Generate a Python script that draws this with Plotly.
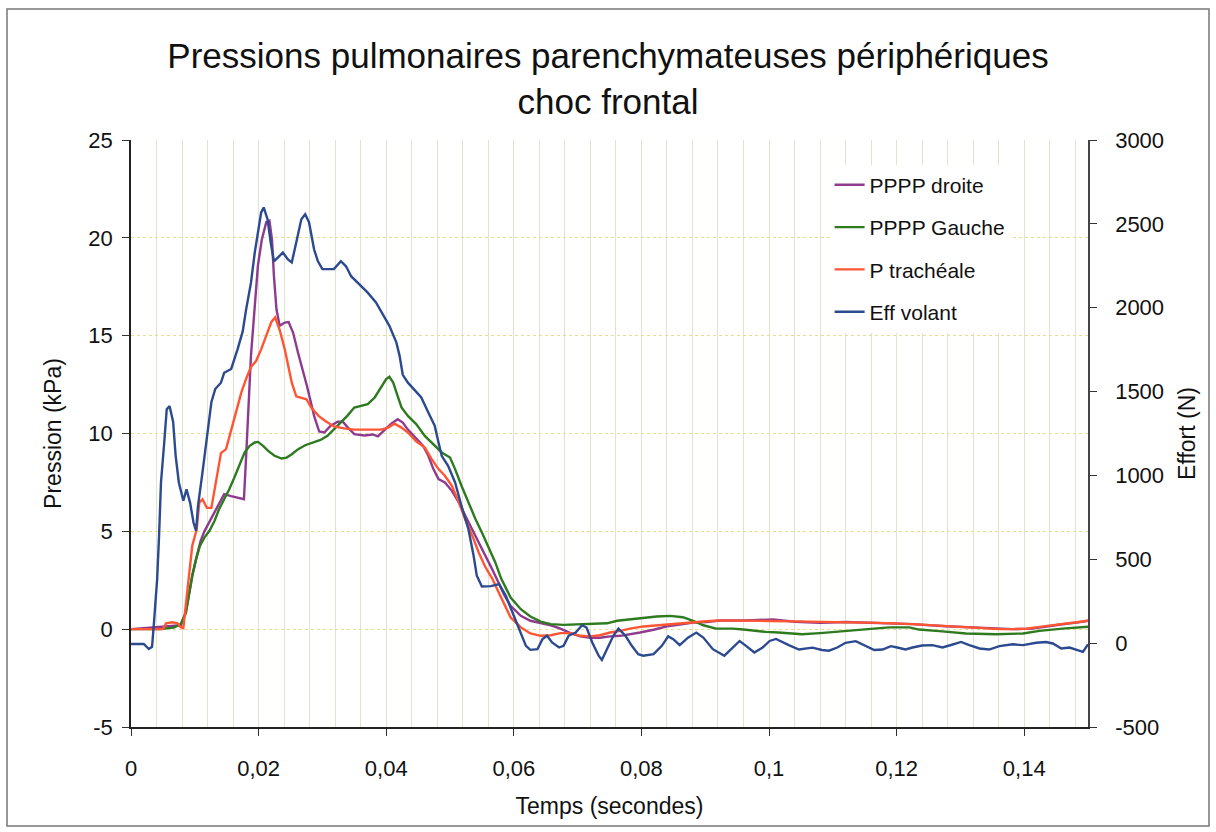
import plotly.graph_objects as go

# ---------------- data (time in milliseconds) ----------------
t_droite = [0, 7.8, 8.6, 9.1, 9.6, 10.2, 10.9, 11.5, 12.5, 13.6,
            14.6, 15.7, 16.7, 17.7, 18.05, 18.4, 18.8, 19.4, 19.9, 20.5,
            21.2, 21.7, 22.1, 22.4, 22.8, 23.3, 24.1, 24.7, 25.4, 26.2,
            27.0, 27.6, 28.7, 29.5, 30.3, 31.3, 32.4, 33.2, 34.0, 35.0,
            36.6, 37.9, 38.7, 39.7, 40.8, 41.8, 42.6, 43.4, 44.5, 45.8,
            46.6, 47.4, 48.2, 49.2, 50.3, 51.4, 52.4, 53.5, 54.5, 55.5,
            56.6, 57.6, 58.5, 59.5, 61.1, 62.6, 64.2, 65.8, 67.3, 68.9,
            70.4, 72.0, 73.5, 75.1, 76.7, 78.2, 79.8, 81.9, 84.0, 86.0,
            88.1, 90.2, 92.3, 96.4, 100.6, 104.0, 108.0, 112.0, 117.2, 122.5,
            127.7, 130.9, 134.0, 136.1, 138.2, 141.3, 143.5, 146.0, 148.5, 150.0]
pppp_droite = [0, 0.2, 0.85, 1.79, 2.73, 3.58, 4.5, 5.0, 5.6, 6.3,
               6.9, 6.8, 6.73, 6.64, 8.86, 11.4, 13.97, 16.5, 18.6, 19.9,
               20.8, 20.87, 19.9, 18.06, 16.35, 15.5, 15.67, 15.7, 15.16, 14.1,
               13.2, 12.4, 10.9, 10.1, 10.05, 10.4, 10.6, 10.6, 10.3, 9.97,
               9.9, 9.95, 9.85, 10.14, 10.5, 10.73, 10.56, 10.2, 9.8, 9.37,
               8.86, 8.18, 7.67, 7.5, 7.07, 6.47, 5.8, 5.1, 4.43, 3.75,
               3.07, 2.39, 1.75, 1.19, 0.68, 0.43, 0.31, 0.2, 0.03, -0.2,
               -0.37, -0.44, -0.44, -0.37, -0.34, -0.27, -0.17, -0.03, 0.14, 0.24,
               0.34, 0.37, 0.44, 0.44, 0.5, 0.38, 0.33, 0.37, 0.3, 0.26,
               0.15, 0.1, 0.05, 0.0, 0.0, 0.03, 0.15, 0.25, 0.35, 0.43]

t_gauche = [0, 4.6, 6.7, 7.8, 8.6, 9.1, 9.6, 10.2, 10.8, 11.5,
            12.3, 13.1, 13.8, 14.6, 15.4, 16.2, 17.0, 17.8, 18.6, 19.4,
            19.9, 20.7, 21.5, 22.5, 23.6, 24.4, 25.2, 26.2, 27.3, 28.3,
            29.7, 30.8, 31.8, 32.9, 33.9, 35.0, 36.05, 37.1, 38.2, 39.2,
            40.0, 40.5, 41.1, 41.6, 42.4, 43.4, 44.7, 46.05, 47.4, 48.7,
            50.0, 50.8, 51.8, 52.9, 54.0, 55.0, 56.0, 57.1, 58.0, 59.5,
            61.1, 62.6, 64.2, 65.8, 67.8, 70.4, 73.0, 74.6, 76.2, 78.2,
            80.3, 82.4, 84.5, 86.5, 88.1, 89.7, 91.7, 94.3, 96.4, 99.5,
            101.5, 105.2, 108.0, 112.0, 116.2, 118.8, 122.0, 123.5, 126.7, 130.9,
            135.6, 139.8, 142.4, 146.0, 150.0]
pppp_gauche = [0, 0, 0.08, 0.26, 0.85, 1.79, 2.73, 3.58, 4.26, 4.68,
               5.03, 5.54, 6.13, 6.64, 7.15, 7.75, 8.35, 9.03, 9.37, 9.54,
               9.57, 9.37, 9.11, 8.86, 8.72, 8.77, 8.94, 9.2, 9.4, 9.5,
               9.67, 9.88, 10.2, 10.56, 10.9, 11.33, 11.41, 11.5, 11.84, 12.35,
               12.78, 12.9, 12.6, 12.1, 11.33, 10.9, 10.48, 9.88, 9.45, 9.03,
               8.77, 8.18, 7.33, 6.47, 5.62, 4.94, 4.17, 3.41, 2.6, 1.62,
               1.02, 0.65, 0.39, 0.26, 0.22, 0.24, 0.26, 0.3, 0.43, 0.51,
               0.58, 0.65, 0.68, 0.61, 0.43, 0.2, 0.03, 0.03, -0.03, -0.14,
               -0.17, -0.26, -0.2, -0.1, 0.03, 0.09, 0.09, -0.02, -0.1, -0.22,
               -0.26, -0.22, -0.09, 0.03, 0.12]

t_trach = [0, 5.0, 5.5, 6.5, 7.3, 7.8, 8.2, 8.6, 9.1, 9.6,
           10.3, 10.7, 11.2, 11.9, 12.6, 13.3, 14.1, 14.9, 15.7, 16.5,
           17.3, 18.05, 18.8, 19.6, 20.4, 21.2, 22.0, 22.6, 23.3, 24.1,
           24.6, 25.2, 25.9, 26.7, 27.5, 28.3, 29.4, 30.4, 31.8, 33.4,
           35.0, 37.1, 39.2, 40.3, 41.3, 42.4, 43.4, 44.7, 46.05, 47.1,
           48.2, 49.2, 50.3, 51.4, 52.4, 53.5, 54.5, 55.5, 56.6, 57.6,
           58.5, 59.5, 61.1, 62.6, 64.2, 65.8, 67.3, 68.9, 70.4, 72.0,
           73.5, 75.1, 76.7, 78.2, 80.3, 82.4, 84.5, 86.5, 88.6, 90.7,
           92.8, 96.4, 100.0, 104.0, 108.0, 112.0, 117.2, 122.5, 127.7, 130.9,
           134.0, 136.1, 138.2, 140.3, 142.4, 144.5, 147.1, 150.0]
p_tracheale = [0, 0, 0.3, 0.35, 0.3, 0.1, 0.05, 1.2, 2.9, 4.26,
               5.1, 6.47, 6.64, 6.2, 6.2, 7.5, 9.0, 9.2, 10.2, 11.24,
               12.1, 12.8, 13.4, 13.7, 14.3, 15.0, 15.7, 15.93, 15.3, 14.3,
               13.46, 12.6, 11.9, 11.84, 11.75, 11.3, 10.9, 10.65, 10.36, 10.26,
               10.2, 10.2, 10.2, 10.3, 10.5, 10.3, 10.05, 9.6, 9.28, 8.7,
               8.18, 7.84, 7.33, 6.47, 5.6, 4.77, 3.92, 3.2, 2.6, 1.9,
               1.3, 0.6, 0.09, -0.22, -0.34, -0.31, -0.2, -0.2, -0.34, -0.37,
               -0.31, -0.17, -0.09, 0.03, 0.14, 0.2, 0.26, 0.31, 0.37, 0.42,
               0.45, 0.45, 0.42, 0.4, 0.38, 0.37, 0.32, 0.26, 0.17, 0.12,
               0.03, 0, 0, 0.02, 0.12, 0.2, 0.32, 0.43]

t_volant = [0, 2.0, 2.8, 3.3, 3.6, 4.1, 4.4, 4.7, 5.2, 5.6,
            6.05, 6.6, 7.0, 7.5, 8.2, 8.7, 9.26, 9.8, 10.2, 10.5,
            11.2, 12.0, 12.6, 13.2, 14.1, 14.6, 15.7, 16.7, 17.5, 18.05,
            18.8, 19.4, 19.9, 20.4, 20.8, 21.4, 21.9, 22.4, 23.05, 23.8,
            24.6, 25.2, 25.9, 26.7, 27.3, 27.9, 28.7, 29.3, 30.0, 31.8,
            32.9, 33.7, 34.5, 35.8, 37.1, 38.4, 39.5, 40.5, 41.6, 42.1,
            42.6, 43.4, 44.5, 45.5, 46.6, 47.6, 48.2, 48.7, 49.7, 50.8,
            51.8, 52.9, 53.7, 54.2, 55.0, 56.4, 57.7, 58.75, 59.8, 60.8,
            61.9, 62.6, 63.7, 64.5, 65.2, 66.0, 67.1, 67.8, 68.6, 69.7,
            70.7, 71.4, 72.3, 73.3, 73.8, 74.6, 75.6, 76.4, 77.5, 78.5,
            79.5, 80.3, 81.9, 83.2, 84.2, 85.0, 86.0, 87.3, 88.6, 89.7,
            91.2, 93.0, 94.3, 95.4, 96.4, 97.7, 99.0, 100.1, 101.1, 102.1,
            103.1, 104.7, 106.0, 106.8, 108.3, 109.4, 110.7, 112.0, 113.6, 114.9,
            116.5, 117.8, 119.1, 120.1, 121.4, 122.5, 124.0, 125.6, 127.2, 128.8,
            130.1, 131.4, 133.0, 134.5, 136.1, 138.2, 139.8, 141.9, 143.4, 144.5,
            145.8, 147.1, 148.4, 149.2, 150.0]
eff_volant = [-5, -5, -35, -22, 123, 382, 640, 958, 1192, 1395,
              1413, 1320, 1117, 958, 849, 917, 838, 719, 670, 818,
              1017, 1256, 1437, 1515, 1553, 1612, 1635, 1752, 1857, 1991,
              2148, 2329, 2448, 2568, 2598, 2528, 2389, 2277, 2300, 2329,
              2288, 2270, 2389, 2528, 2557, 2510, 2347, 2277, 2230, 2230,
              2277, 2247, 2188, 2137, 2090, 2032, 1962, 1892, 1792, 1713,
              1600, 1553, 1507, 1465, 1375, 1297, 1196, 1117, 1057, 958,
              818, 678, 521, 402, 338, 340, 352, 282, 183, 83,
              -16, -40, -36, 24, 44, 4, -26, -16, 44, 63,
              107, 93, 4, -75, -100, -36, 44, 87, 44, -16,
              -66, -75, -66, -16, 40, 24, -12, 33, 63, 33,
              -36, -75, -26, 13, -16, -56, -26, 13, 25, 4,
              -12, -38, -33, -27, -41, -45, -26, 2, 12, -12,
              -41, -38, -18, -26, -38, -26, -14, -12, -26, -8,
              7, -12, -32, -38, -18, -7, -12, 2, 7, -2,
              -32, -26, -41, -52, -7]

series_names = ["PPPP droite", "PPPP Gauche", "P trachéale", "Eff volant"]
series_colors = ["#8E3A8E", "#2D7A1F", "#FF5533", "#2B4A8F"]

x_tickvals = [0, 0.02, 0.04, 0.06, 0.08, 0.1, 0.12, 0.14]
x_ticktext = ["0", "0,02", "0,04", "0,06", "0,08", "0,1", "0,12", "0,14"]
y_tickvals = [-5, 0, 5, 10, 15, 20, 25]
y2_tickvals = [-500, 0, 500, 1000, 1500, 2000, 2500, 3000]

FONT = "Liberation Sans, Arial, sans-serif"


def sec(ms):
    return [v / 1000 for v in ms]


fig = go.Figure()
pressure_sets = [(t_droite, pppp_droite), (t_gauche, pppp_gauche), (t_trach, p_tracheale)]
for i, (tt, vv) in enumerate(pressure_sets):
    fig.add_trace(go.Scatter(x=sec(tt), y=vv, mode="lines", name=series_names[i],
                             legendgroup=f"g{i}",
                             line=dict(color=series_colors[i], width=2.4)))
fig.add_trace(go.Scatter(x=sec(t_volant), y=eff_volant, mode="lines", name=series_names[3],
                         legendgroup="g3", yaxis="y2",
                         line=dict(color=series_colors[3], width=2.4)))

grid_v = "#E2E2D0"
fig.update_layout(
    width=1216, height=832,
    margin=dict(l=131, r=128, t=140, b=105, autoexpand=False),
    paper_bgcolor="white", plot_bgcolor="white",
    font=dict(family=FONT, size=22, color="#111111"),
    title=dict(text="Pressions pulmonaires parenchymateuses périphériques<br>choc frontal",
               x=0.5, xanchor="center", y=1 - 68 / 832, yanchor="middle",
               font=dict(family=FONT, size=35, color="#111111")),
    showlegend=True,
    legend=dict(x=0.730, y=0.958, xanchor="left", yanchor="top",
                bgcolor="white", borderwidth=0, tracegroupgap=12,
                traceorder="grouped",
                font=dict(family=FONT, size=21, color="#111111")),
    xaxis=dict(range=[0, 0.15], tickvals=x_tickvals, ticktext=x_ticktext,
               ticks="outside", ticklen=7, tickcolor="#333333",
               ticklabelstandoff=14,
               showline=True, linecolor="#222222", linewidth=1.5,
               showgrid=True, gridcolor=grid_v, gridwidth=1, zeroline=False,
               minor=dict(dtick=0.004, tick0=0, showgrid=True, gridcolor=grid_v,
                          gridwidth=1, ticks=""),
               title=dict(text="Temps (secondes)", standoff=18,
                          font=dict(family=FONT, size=23))),
    yaxis=dict(range=[-5, 25], tickvals=y_tickvals,
               ticktext=[str(v) for v in y_tickvals],
               ticks="outside", ticklen=7, tickcolor="#333333",
               ticklabelstandoff=5,
               showline=True, linecolor="#222222", linewidth=1.5,
               showgrid=True, gridcolor="#E4DF96", griddash="dot", gridwidth=1.3,
               zeroline=False,
               title=dict(text="Pression (kPa)", standoff=20,
                          font=dict(family=FONT, size=23))),
    yaxis2=dict(range=[-500, 3000], tickvals=y2_tickvals,
                ticktext=[str(v) for v in y2_tickvals],
                overlaying="y", side="right",
                ticks="outside", ticklen=7, tickcolor="#333333",
                ticklabelstandoff=14,
                showline=True, linecolor="#444444", linewidth=1.5,
                showgrid=False, zeroline=False,
                title=dict(text="Effort (N)", standoff=16,
                           font=dict(family=FONT, size=23))),
)

# outer chart frame
fig.add_shape(type="rect", xref="paper", yref="paper",
              x0=(7 - 131) / 957, x1=(1209 - 131) / 957,
              y0=(727 - 826) / 587, y1=(727 - 9) / 587,
              line=dict(color="#777777", width=1.5), fillcolor="rgba(0,0,0,0)",
              layer="below")

fig.write_html("out.html", config={"displayModeBar": False},
               post_script="document.body.style.margin='0';document.body.style.overflow='hidden';")
